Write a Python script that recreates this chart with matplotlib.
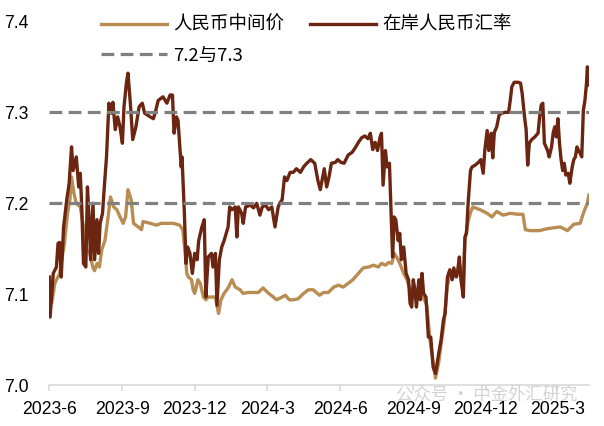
import pandas as pd
import matplotlib
matplotlib.use("Agg")
import matplotlib.pyplot as plt
import matplotlib.dates as mdates

# ---------- DATOS ----------
# 在岸人民币汇率 (USD/CNY onshore)
ONSHORE_DATES = [
    "2023-06-01", "2023-06-02", "2023-06-06", "2023-06-10", "2023-06-12", "2023-06-14",
    "2023-06-16", "2023-06-19", "2023-06-23", "2023-06-26", "2023-06-29", "2023-07-01",
    "2023-07-05", "2023-07-08", "2023-07-10", "2023-07-12", "2023-07-14", "2023-07-17",
    "2023-07-19", "2023-07-21", "2023-07-23", "2023-07-26", "2023-07-28", "2023-07-31",
    "2023-08-02", "2023-08-04", "2023-08-07", "2023-08-09", "2023-08-12", "2023-08-15",
    "2023-08-18", "2023-08-20", "2023-08-23", "2023-08-26", "2023-08-29", "2023-09-01",
    "2023-09-03", "2023-09-06", "2023-09-08", "2023-09-11", "2023-09-14", "2023-09-18",
    "2023-09-22", "2023-09-26", "2023-09-29", "2023-10-06", "2023-10-10", "2023-10-13",
    "2023-10-16", "2023-10-22", "2023-10-27", "2023-10-31", "2023-11-03", "2023-11-05",
    "2023-11-08", "2023-11-10", "2023-11-14", "2023-11-15", "2023-11-18", "2023-11-20",
    "2023-11-22", "2023-11-25", "2023-11-28", "2023-12-01", "2023-12-04", "2023-12-06",
    "2023-12-10", "2023-12-13", "2023-12-15", "2023-12-18", "2023-12-22", "2023-12-24",
    "2023-12-27", "2023-12-29", "2024-01-01", "2024-01-04", "2024-01-07", "2024-01-12",
    "2024-01-14", "2024-01-17", "2024-01-21", "2024-01-23", "2024-01-25", "2024-01-29",
    "2024-01-31", "2024-02-03", "2024-02-09", "2024-02-13", "2024-02-17", "2024-02-21",
    "2024-02-24", "2024-02-28", "2024-03-03", "2024-03-07", "2024-03-11", "2024-03-15",
    "2024-03-17", "2024-03-20", "2024-03-23", "2024-03-26", "2024-03-30", "2024-04-03",
    "2024-04-07", "2024-04-12", "2024-04-16", "2024-04-20", "2024-04-25", "2024-04-30",
    "2024-05-04", "2024-05-07", "2024-05-10", "2024-05-12", "2024-05-15", "2024-05-18",
    "2024-05-21", "2024-05-26", "2024-05-29", "2024-06-02", "2024-06-06", "2024-06-11",
    "2024-06-16", "2024-06-20", "2024-06-24", "2024-06-28", "2024-07-02", "2024-07-06",
    "2024-07-09", "2024-07-12", "2024-07-15", "2024-07-18", "2024-07-21", "2024-07-23",
    "2024-07-25", "2024-07-28", "2024-07-30", "2024-08-02", "2024-08-04", "2024-08-06",
    "2024-08-08", "2024-08-10", "2024-08-13", "2024-08-15", "2024-08-17", "2024-08-20",
    "2024-08-23", "2024-08-26", "2024-08-28", "2024-08-30", "2024-09-01", "2024-09-03",
    "2024-09-05", "2024-09-08", "2024-09-10", "2024-09-12", "2024-09-14", "2024-09-17",
    "2024-09-20", "2024-09-23", "2024-09-26", "2024-09-29", "2024-10-03", "2024-10-06",
    "2024-10-09", "2024-10-11", "2024-10-14", "2024-10-17", "2024-10-20", "2024-10-22",
    "2024-10-25", "2024-10-27", "2024-10-29", "2024-10-31", "2024-11-03", "2024-11-05",
    "2024-11-07", "2024-11-09", "2024-11-12", "2024-11-14", "2024-11-18", "2024-11-22",
    "2024-11-25", "2024-11-28", "2024-11-30", "2024-12-03", "2024-12-05", "2024-12-08",
    "2024-12-10", "2024-12-12", "2024-12-15", "2024-12-18", "2024-12-21", "2024-12-26",
    "2024-12-30", "2025-01-01", "2025-01-03", "2025-01-06", "2025-01-11", "2025-01-14",
    "2025-01-16", "2025-01-19", "2025-01-21", "2025-01-23", "2025-01-25", "2025-01-28",
    "2025-02-01", "2025-02-05", "2025-02-07", "2025-02-09", "2025-02-11", "2025-02-13",
    "2025-02-15", "2025-02-17", "2025-02-19", "2025-02-22", "2025-02-24", "2025-02-26",
    "2025-02-28", "2025-03-02", "2025-03-04", "2025-03-06", "2025-03-08", "2025-03-10",
    "2025-03-12", "2025-03-15", "2025-03-17", "2025-03-20", "2025-03-22", "2025-03-24",
    "2025-03-26", "2025-03-28", "2025-03-30", "2025-04-01", "2025-04-03", "2025-04-05",
    "2025-04-07", "2025-04-08", "2025-04-09", "2025-04-10",
]
ONSHORE_VALUES = [
    7.119, 7.075, 7.123, 7.130, 7.156, 7.157,
    7.119, 7.174, 7.204, 7.222, 7.262, 7.236,
    7.251, 7.218, 7.233, 7.193, 7.134, 7.130,
    7.218, 7.185, 7.138, 7.200, 7.138, 7.182,
    7.145, 7.178, 7.189, 7.215, 7.251, 7.310,
    7.299, 7.311, 7.281, 7.295, 7.284, 7.266,
    7.306, 7.332, 7.343, 7.310, 7.270, 7.284,
    7.306, 7.310, 7.299, 7.295, 7.293, 7.302,
    7.313, 7.317, 7.310, 7.319, 7.319, 7.277,
    7.295, 7.291, 7.240, 7.251, 7.189, 7.134,
    7.152, 7.145, 7.123, 7.145, 7.138, 7.159,
    7.174, 7.182, 7.097, 7.141, 7.145, 7.130,
    7.145, 7.088, 7.138, 7.152, 7.159, 7.174,
    7.196, 7.193, 7.196, 7.163, 7.196, 7.189,
    7.178, 7.196, 7.198, 7.195, 7.200, 7.187,
    7.196, 7.198, 7.193, 7.196, 7.174, 7.196,
    7.200, 7.204, 7.229, 7.225, 7.234, 7.234,
    7.238, 7.234, 7.240, 7.244, 7.248, 7.244,
    7.225, 7.215, 7.229, 7.238, 7.218, 7.229,
    7.244, 7.245, 7.248, 7.245, 7.244, 7.253,
    7.256, 7.261, 7.267, 7.272, 7.274, 7.271,
    7.277, 7.259, 7.267, 7.258, 7.272, 7.277,
    7.220, 7.258, 7.240, 7.244, 7.193, 7.141,
    7.185, 7.182, 7.159, 7.167, 7.138, 7.152,
    7.123, 7.116, 7.090, 7.086, 7.116, 7.105,
    7.086, 7.116, 7.094, 7.123, 7.101, 7.097,
    7.053, 7.053, 7.020, 7.013, 7.035, 7.050,
    7.072, 7.079, 7.119, 7.127, 7.116, 7.129,
    7.119, 7.127, 7.141, 7.116, 7.097, 7.163,
    7.167, 7.200, 7.236, 7.240, 7.242, 7.245,
    7.248, 7.233, 7.258, 7.280, 7.258, 7.277,
    7.250, 7.278, 7.284, 7.297, 7.299, 7.300,
    7.300, 7.313, 7.328, 7.333, 7.333, 7.332,
    7.321, 7.295, 7.281, 7.242, 7.266, 7.270,
    7.273, 7.277, 7.295, 7.308, 7.310, 7.266,
    7.262, 7.258, 7.251, 7.262, 7.277, 7.284,
    7.273, 7.293, 7.266, 7.248, 7.236, 7.244,
    7.231, 7.233, 7.222, 7.240, 7.248, 7.251,
    7.262, 7.258, 7.255, 7.251, 7.302, 7.313,
    7.332, 7.350, 7.347, 7.330,
]

# 人民币中间价 (USD/CNY central parity)
MIDPOINT_DATES = [
    "2023-06-01", "2023-06-04", "2023-06-08", "2023-06-14", "2023-06-20", "2023-06-24",
    "2023-06-27", "2023-06-29", "2023-07-02", "2023-07-05", "2023-07-10", "2023-07-14",
    "2023-07-18", "2023-07-22", "2023-07-26", "2023-07-28", "2023-07-31", "2023-08-03",
    "2023-08-06", "2023-08-10", "2023-08-14", "2023-08-17", "2023-08-21", "2023-08-25",
    "2023-08-29", "2023-09-02", "2023-09-05", "2023-09-08", "2023-09-12", "2023-09-15",
    "2023-09-21", "2023-09-25", "2023-09-27", "2023-10-06", "2023-10-14", "2023-10-20",
    "2023-10-29", "2023-11-04", "2023-11-12", "2023-11-16", "2023-11-19", "2023-11-21",
    "2023-11-23", "2023-11-27", "2023-11-29", "2023-12-01", "2023-12-05", "2023-12-08",
    "2023-12-12", "2023-12-15", "2023-12-18", "2023-12-22", "2023-12-27", "2023-12-31",
    "2024-01-03", "2024-01-07", "2024-01-12", "2024-01-17", "2024-01-21", "2024-01-27",
    "2024-01-31", "2024-02-06", "2024-02-12", "2024-02-19", "2024-02-25", "2024-03-03",
    "2024-03-09", "2024-03-13", "2024-03-20", "2024-03-24", "2024-03-29", "2024-04-03",
    "2024-04-09", "2024-04-16", "2024-04-22", "2024-04-28", "2024-05-06", "2024-05-11",
    "2024-05-17", "2024-05-24", "2024-05-30", "2024-06-05", "2024-06-11", "2024-06-17",
    "2024-06-24", "2024-06-30", "2024-07-07", "2024-07-13", "2024-07-19", "2024-07-23",
    "2024-07-28", "2024-08-01", "2024-08-05", "2024-08-08", "2024-08-11", "2024-08-15",
    "2024-08-20", "2024-08-24", "2024-08-28", "2024-09-01", "2024-09-05", "2024-09-10",
    "2024-09-15", "2024-09-18", "2024-09-22", "2024-09-26", "2024-09-29", "2024-10-03",
    "2024-10-06", "2024-10-10", "2024-10-14", "2024-10-17", "2024-10-22", "2024-10-26",
    "2024-10-30", "2024-11-03", "2024-11-05", "2024-11-09", "2024-11-12", "2024-11-15",
    "2024-11-24", "2024-12-03", "2024-12-09", "2024-12-15", "2024-12-23", "2025-01-01",
    "2025-01-10", "2025-01-17", "2025-01-20", "2025-01-26", "2025-02-07", "2025-02-16",
    "2025-02-24", "2025-03-05", "2025-03-14", "2025-03-22", "2025-03-30", "2025-04-03",
    "2025-04-08", "2025-04-10",
]
MIDPOINT_VALUES = [
    7.101, 7.090, 7.112, 7.123, 7.156, 7.189,
    7.204, 7.229, 7.211, 7.200, 7.196, 7.174,
    7.149, 7.145, 7.129, 7.126, 7.134, 7.130,
    7.149, 7.159, 7.185, 7.207, 7.196, 7.193,
    7.185, 7.178, 7.185, 7.215, 7.204, 7.178,
    7.174, 7.171, 7.180, 7.178, 7.176, 7.178,
    7.178, 7.178, 7.176, 7.171, 7.145, 7.123,
    7.119, 7.116, 7.105, 7.101, 7.116, 7.112,
    7.097, 7.094, 7.097, 7.097, 7.097, 7.079,
    7.094, 7.101, 7.107, 7.116, 7.108, 7.105,
    7.101, 7.102, 7.102, 7.102, 7.107, 7.101,
    7.097, 7.094, 7.097, 7.099, 7.094, 7.094,
    7.095, 7.101, 7.105, 7.105, 7.099, 7.102,
    7.102, 7.108, 7.110, 7.108, 7.112, 7.116,
    7.123, 7.129, 7.130, 7.132, 7.130, 7.134,
    7.132, 7.135, 7.134, 7.145, 7.141, 7.134,
    7.123, 7.116, 7.105, 7.105, 7.097, 7.101,
    7.094, 7.088, 7.050, 7.025, 7.008, 7.025,
    7.045, 7.070, 7.110, 7.120, 7.123, 7.120,
    7.130, 7.120, 7.160, 7.180, 7.190, 7.196,
    7.193, 7.189, 7.185, 7.191, 7.187, 7.189,
    7.188, 7.188, 7.171, 7.170, 7.170, 7.172,
    7.173, 7.174, 7.170, 7.177, 7.178, 7.189,
    7.200, 7.209,
]

REF_LEVELS = [7.2, 7.3]
Y_TICKS = [7.0, 7.1, 7.2, 7.3, 7.4]
X_TICKS = ["2023-06-01", "2023-09-01", "2023-12-01", "2024-03-01",
           "2024-06-01", "2024-09-01", "2024-12-01", "2025-03-01"]
X_START, X_END = "2023-06-01", "2025-04-10"

# ---------- ESTILO ----------
TAN = "#B98C52"
BROWN = "#6B2511"
GRAY = "#808080"
CJK = ["Noto Sans CJK SC", "DejaVu Sans"]
LATIN = ["Liberation Sans", "DejaVu Sans"]
FS = 12.7

onshore = pd.Series(ONSHORE_VALUES, index=pd.to_datetime(ONSHORE_DATES))
midpoint = pd.Series(MIDPOINT_VALUES, index=pd.to_datetime(MIDPOINT_DATES))

fig = plt.figure(figsize=(6.04, 4.26), dpi=100)
ax = fig.add_axes([0.0816, 0.0955, 0.8934, 0.8545])

l_mid, = ax.plot(midpoint.index, midpoint.values, color=TAN, lw=2.4, label="人民币中间价", zorder=3)
l_on, = ax.plot(onshore.index, onshore.values, color=BROWN, lw=2.4, label="在岸人民币汇率", zorder=4)
l_ref = None
for lvl in REF_LEVELS:
    l_ref = ax.axhline(lvl, color=GRAY, lw=2.3, ls=(0, (4.0, 2.0)), label="7.2与7.3", zorder=5)

ax.set_ylim(7.0, 7.4)
ax.set_yticks(Y_TICKS)
ax.set_yticklabels([f"{v:.1f}" for v in Y_TICKS], fontfamily=LATIN, fontsize=FS)
ax.set_xlim(pd.Timestamp(X_START), pd.Timestamp(X_END))
ax.set_xticks(pd.to_datetime(X_TICKS))
ax.xaxis.set_major_formatter(mdates.DateFormatter("%Y-%-m"))
for lab in ax.get_xticklabels():
    lab.set_fontfamily(LATIN)
    lab.set_fontsize(FS)

for side in ["top", "right", "left"]:
    ax.spines[side].set_visible(False)
ax.spines["bottom"].set_color("#D9D9D9")
ax.spines["bottom"].set_linewidth(1.2)
ax.tick_params(axis="y", length=0, pad=15)
ax.tick_params(axis="x", length=4, width=1.2, color="#D9D9D9", pad=7)

leg = ax.legend(handles=[l_mid, l_ref, l_on], ncol=2, loc="upper left",
                bbox_to_anchor=(0.078, 1.04), frameon=False, borderpad=0,
                handlelength=3.6, handletextpad=0.35, columnspacing=1.35,
                labelspacing=0.7, prop={"family": CJK, "size": 13.3})

fig.text(0.655, 0.062, "公众号 · 中金外汇研究", fontfamily=CJK, fontsize=12.5,
         color="#C8C8C8", alpha=0.8, zorder=0)

fig.savefig("out.png", dpi=100)
